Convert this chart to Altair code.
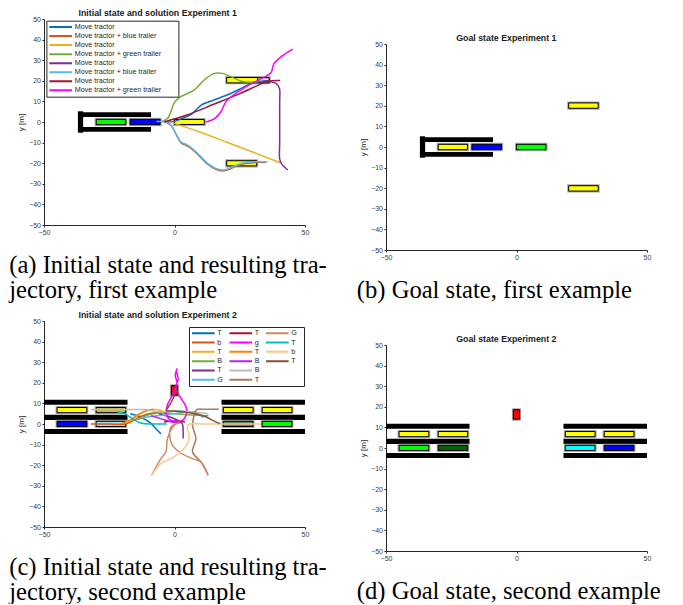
import altair as alt
import pandas as pd

# ---------------- axes / text ----------------
X_DOMAIN = [-50, 50]
Y_DOMAIN = [-50, 50]
X_TICKS = [-50, 0, 50]
Y_TICKS = [-50, -40, -30, -20, -10, 0, 10, 20, 30, 40, 50]
Y_TITLE = "y [m]"

TITLE_A = "Initial state and solution Experiment 1"
TITLE_B = "Goal state Experiment 1"
TITLE_C = "Initial state and solution Experiment 2"
TITLE_D = "Goal state Experiment 2"

CAPTION_A = ["(a) Initial state and resulting tra-", "jectory, first example"]
CAPTION_B = ["(b) Goal state, first example"]
CAPTION_C = ["(c) Initial state and resulting tra-", "jectory, second example"]
CAPTION_D = ["(d) Goal state, second example"]

# ---------------- walls (x1, x2, y1, y2) ----------------
WALLS_EXP1 = [(-37, -35, -5.2, 5.2), (-37, -9, 2.4, 4.7), (-37, -9, -4.7, -2.4)]
WALLS_EXP2 = [(-50, -18, 9.3, 11.8), (-50, -18, 2.0, 4.5), (-50, -18, -4.9, -2.4),
              (18, 50, 9.3, 11.8), (18, 50, 2.0, 4.5), (18, 50, -4.9, -2.4)]

# ---------------- trailers / tractors (x1, x2, y1, y2, kind) ----------------
BOX_KINDS = ["yellow", "blue", "green", "darkgreen", "cyan", "red", "khaki",
             "paleteal", "greygreen", "empty"]
BOX_FILLS = ["#FFFF00", "#0000FF", "#00FF00", "#006400", "#00FFFF", "#FF0000",
             "#C8B84A", "#A6E3E3", "#5E8A5E", "rgba(0,0,0,0)"]

BOXES_A = [(-30, -18.7, -1.3, 1.3, "green"), (-17, -5.5, -1.3, 1.3, "blue"),
           (0, 11.4, -1.2, 1.2, "yellow"), (20, 31.8, 19.0, 21.6, "yellow"),
           (31.8, 36.3, 19.0, 21.6, "empty"), (20, 31.5, -21.3, -18.8, "yellow")]
BOXES_B = [(-30, -18.8, -1.3, 1.3, "yellow"), (-17.1, -5.7, -1.3, 1.3, "blue"),
           (0, 11.3, -1.3, 1.3, "green"), (20, 31.3, 18.8, 21.4, "yellow"),
           (20, 31.3, -21.4, -18.8, "yellow")]
BOXES_C = [(-45, -33.6, 5.5, 8.0, "yellow"), (-30, -18.7, 5.5, 8.0, "khaki"),
           (-45, -33.6, -1.2, 1.3, "blue"), (-30, -18.7, -1.2, 1.3, "paleteal"),
           (18.7, 30.1, 5.5, 8.0, "yellow"), (33.6, 45, 5.5, 8.0, "yellow"),
           (18.7, 30.1, -1.2, 1.3, "greygreen"), (33.6, 45, -1.2, 1.3, "green"),
           (-1.2, 1.2, 14.0, 18.6, "red")]
BOXES_D = [(-45, -33.6, 5.5, 8.0, "yellow"), (-30, -18.7, 5.5, 8.0, "yellow"),
           (-45, -33.6, -1.2, 1.3, "green"), (-30, -18.7, -1.2, 1.3, "darkgreen"),
           (18.7, 30.1, 5.5, 8.0, "yellow"), (33.6, 45, 5.5, 8.0, "yellow"),
           (18.7, 30.1, -1.2, 1.3, "cyan"), (33.6, 45, -1.2, 1.3, "blue"),
           (-1.2, 1.2, 14.0, 18.6, "red")]

# ---------------- Experiment 1 trajectories ----------------
A_LABELS = ["Move tractor", "Move tractor + blue trailer", "Move tractor",
            "Move tractor + green trailer", "Move tractor", "Move tractor + blue trailer",
            "Move tractor", "Move tractor + green trailer"]
A_COLORS = ["#0072BD", "#D95319", "#EDB120", "#77AC30", "#7E2F8E", "#4DBEEE",
            "#A2142F", "#FF00FF"]

A_BLUE = [(-3, 0), (0, 0.3), (3, 1.8), (6.3, 3.6), (8.5, 6.2), (10.5, 8.4), (15.2, 10.7),
          (20.3, 13.2), (25.5, 16.3), (29.3, 18.7), (33, 19.8), (36, 20)]
A_ORANGE = [(-3.5, 0), (-1.2, -1.8), (0.6, -6), (2.5, -10), (5, -11.7), (7.5, -14),
            (10.1, -17.2), (12.7, -20.5), (15.9, -23), (18.5, -23.8), (21, -23),
            (23.5, -21.5), (27, -20.2), (31, -19.6), (35, -19.7)]
A_YELLOW = [(-1, -0.3), (10, -5), (20, -9.8), (30, -14.6), (40.5, -19.8)]
A_GREEN = [(-5, 0), (-2.5, 2), (-1.4, 5), (0, 9.5), (2.4, 12.3), (7.5, 15.5), (11.4, 20.4),
           (15.2, 23.6), (18.4, 23.6), (21.6, 22), (25.5, 19.8), (29.3, 19.3), (32, 19.6)]
A_PURPLE = [(34, 20), (38.9, 18.7), (40.2, 16.3), (40.3, 10), (40.3, 0), (40.3, -10),
            (40.3, -18), (41, -20.2), (43.4, -23.3)]
A_LIGHTBLUE = [(-7, 0.2), (-3, 0), (-1.4, -1.5), (0.5, -5.5), (2.4, -9.6), (5, -11.2),
               (7.5, -13.6), (10.1, -16.8), (12.7, -20.1), (15.9, -22.5), (19, -23.3),
               (22.3, -21.7), (26.7, -19.8), (30.6, -19.3), (35.7, -19.3)]
A_DARKRED = [(-4, 0), (5, 3.5), (15, 8.6), (25, 13.8), (32, 17.8), (36, 19.8), (40.5, 20.1)]
A_MAGENTA = [(12, 0), (15.2, 1.5), (17.8, 5), (19.7, 9.9), (22.5, 13), (26, 16), (30, 19),
             (34, 21.5), (37, 24), (38, 28), (40.8, 31.6), (45.3, 35.4)]
A_SERIES = [A_BLUE, A_ORANGE, A_YELLOW, A_GREEN, A_PURPLE, A_LIGHTBLUE, A_DARKRED, A_MAGENTA]

# ---------------- Experiment 2 trajectories (legend order, column-major) ----------------
C_LABELS = ["T", "b", "T", "B", "T", "G", "T", "g", "T", "B", "B", "T", "G", "T", "b", "T"]
C_COLORS = ["#0072BD", "#D95319", "#EDB120", "#77AC30", "#7E2F8E", "#4DBEEE",
            "#A2142F", "#FF00FF", "#FF8000", "#B026F0", "#BDBDBD", "#B07850",
            "#D08A60", "#00BFBF", "#FFC48C", "#7F5238"]

C_T1 = [(-17, 5), (-15, 4.3), (-13, 3.4), (-11, 2), (-9, 0.3), (-7.2, -2.2), (-5.2, -4.8)]
C_B1 = [(-32, 0), (-25, 0), (-19, 0), (-16, 1.5), (-13, 3.5), (-10, 5), (-6, 5.5), (-2, 5)]
C_T2 = [(-19, 0.5), (-16, 2.5), (-13, 5), (-10, 6.5), (-7, 7), (-4, 6)]
C_BB1 = [(-14, 2), (-10, 4.5), (-5, 5.5), (0, 5), (5, 4.5), (9, 4.2), (13, 4)]
C_T3 = [(-6, 5), (-2, 3.5), (1, 2), (3, 0), (3.3, -3), (3.3, -7)]
C_G1 = [(-13, 3), (-8, 3.8), (-3, 4.5), (2, 5.5), (6, 6), (9, 5), (11, 3)]
C_T4 = [(-4, 1), (0, 1.5), (4, 1)]
C_GG = [(1, 27), (0.3, 23.5), (1, 20), (0.3, 17), (-1, 13.5), (-2.8, 9), (-3.2, 5), (-2, 2.3),
        (0.5, 1.3), (3, 1.8), (4.5, 4.5), (4.5, 8), (3, 11.5), (1.5, 14.5), (0.6, 18),
        (1.4, 22), (0.7, 25.5)]
C_T5 = [(-20, 0.3), (-17, 2), (-14, 4.5), (-11, 6.5), (-8, 7.2)]
C_BB2 = [(-9, 4), (-5, 2.5), (-1, 1), (2, 0.5)]
C_BB3 = [(-32, 7), (-20, 7), (-12, 7), (-6, 6), (0, 6.5), (6, 6), (13, 5)]
C_T6 = [(17, 7.1), (12, 7.1), (8.5, 7), (7.5, 4), (6.9, -0.6), (8.2, -7.1), (6.9, -13.6),
        (10.1, -18.4), (12.9, -24.9)]
C_G2 = [(-8.8, -24.9), (-5.2, -16.8), (-3.3, -13.6), (-2.7, -7.1), (-0.1, -0.6), (1.5, 0.5),
        (-1.4, -1.5), (-1.4, -8.7), (1.8, -13.6), (6.9, -16.8), (10.1, -18.4), (12.9, -24.9)]
C_T7 = [(-22, 6), (-19, 5), (-16, 2.5), (-13, 0.5), (-9, 0), (-3, 0)]
C_B2 = [(33, 0), (20, 0), (10, 0), (6, 0), (5, -0.6), (5.6, -7.1), (3.1, -12.8), (-1.4, -16.8),
        (-5.2, -19.2), (-8.8, -24.9)]
C_T8 = [(1, 18), (0, 14), (-1.5, 10), (-3, 6.5), (-1, 6.3), (3, 6), (8, 5), (12, 3.5),
        (15, 1.5), (17.5, 0.2)]
C_SERIES = [C_T1, C_B1, C_T2, C_BB1, C_T3, C_G1, C_T4, C_GG, C_T5, C_BB2, C_BB3, C_T6,
            C_G2, C_T7, C_B2, C_T8]
C_BLANKS = 2  # empty legend cells closing the third column

CAP_FS = 24.6
CAP_LH = 25
CAP_Y = 47
PAD = "\u2800"  # blank filler that widens legend boxes
PLOT_W = 261
PLOT_H = 206


def walls_df(rows):
    return pd.DataFrame(rows, columns=["x1", "x2", "y1", "y2"])


def boxes_df(rows):
    return pd.DataFrame(rows, columns=["x1", "x2", "y1", "y2", "kind"])


def key(k, label):
    return f"{k:02d}|{label}"


def traj_df(series, labels):
    recs = []
    for k, (pts, lab) in enumerate(zip(series, labels)):
        for i, (x, y) in enumerate(pts):
            recs.append({"s": key(k, lab), "i": i, "x": x, "y": y})
    return pd.DataFrame(recs)


XS = alt.Scale(domain=X_DOMAIN, nice=False, zero=False)


def panel(walls, boxes, title, title_x, caption, cap_x, lines=None, top=0):
    ys = alt.Scale(domain=Y_DOMAIN, nice=False, zero=False, range=[PLOT_H + top, top])
    xa = alt.Axis(values=X_TICKS, title=caption, titleX=cap_x, titleY=CAP_Y,
                  titleAlign="left", titleAnchor="start", titleBaseline="alphabetic",
                  titleFont="Liberation Serif", titleFontSize=CAP_FS,
                  titleFontWeight="normal", titleLineHeight=CAP_LH, titleColor="black",
                  labelFlush=False)
    ya = alt.Axis(values=Y_TICKS, title=Y_TITLE, titleFont="Liberation Sans",
                  titleFontSize=8, titleFontWeight="normal", titleColor="#262626",
                  titlePadding=3, labelFlush=False)

    def pos(xf, yf):
        return dict(x=alt.X(f"{xf}:Q", scale=XS, axis=xa),
                    y=alt.Y(f"{yf}:Q", scale=ys, axis=ya))

    w = alt.Chart(walls_df(walls)).mark_rect(color="black").encode(
        x2="x2:Q", y2="y2:Q", **pos("x1", "y1"))
    bdf = boxes_df(boxes)
    halo = alt.Chart(bdf).mark_rect(fillOpacity=0, stroke="#a8a8a8", strokeWidth=3).encode(
        x2="x2:Q", y2="y2:Q", **pos("x1", "y1"))
    box = alt.Chart(bdf).mark_rect(stroke="black", strokeWidth=1).encode(
        x2="x2:Q", y2="y2:Q",
        fill=alt.Fill("kind:N", scale=alt.Scale(domain=BOX_KINDS, range=BOX_FILLS),
                      legend=None),
        **pos("x1", "y1"))
    ttl = alt.Chart(pd.DataFrame({"t": [title]})).mark_text(
        font="Liberation Sans", fontSize=8.8, fontWeight="bold", color="#1a1a1a",
        align="center", baseline="middle").encode(
        text="t:N", x=alt.value(title_x), y=alt.value(top - 6.5))
    layers = [w, halo, box]
    if lines is not None:
        layers.append(lines(pos))
    layers.append(ttl)
    return alt.layer(*layers).properties(width=PLOT_W, height=PLOT_H + top)


def lines_a(pos):
    dom = [key(k, l) for k, l in enumerate(A_LABELS)]
    leg = alt.Legend(orient="none", legendX=2.4, legendY=1.7, title=None,
                     symbolType="stroke", symbolSize=515, symbolStrokeWidth=2,
                     labelFont="Liberation Sans", labelFontSize=7.2, labelColor="#262626",
                     labelExpr="split(datum.label, '|')[1] + '" + PAD * 3 + "'",
                     fillColor="white", strokeColor="#262626", padding=1.8,
                     clipHeight=9, rowPadding=0.05, labelOffset=1.5, symbolOffset=0,
                     direction="vertical")
    return alt.Chart(traj_df(A_SERIES, A_LABELS)).mark_line(
        strokeWidth=1.5, interpolate="catmull-rom").encode(
        color=alt.Color("s:N", scale=alt.Scale(domain=dom, range=A_COLORS), legend=leg),
        order="i:Q", **pos("x", "y"))


def lines_c(pos):
    dom = [key(k, l) for k, l in enumerate(C_LABELS)]
    rng = list(C_COLORS)
    for j in range(C_BLANKS):
        dom.append(f"{90 + j}|")
        rng.append("rgba(0,0,0,0)")
    leg = alt.Legend(orient="none", legendX=145, legendY=6, title=None, columns=3,
                     symbolType="stroke", symbolSize=515, symbolStrokeWidth=2,
                     labelFont="Liberation Sans", labelFontSize=7.2, labelColor="#262626",
                     labelExpr=("split(datum.label, '|')[1] + "
                                "(toNumber(slice(datum.label, 0, 2)) >= 12 ? '"
                                + PAD + "' : '')"),
                     fillColor="white", strokeColor="#262626", padding=1.8,
                     clipHeight=9, rowPadding=0.28, columnPadding=4.5, labelOffset=1.5,
                     symbolOffset=0, gridAlign="each")
    return alt.Chart(traj_df(C_SERIES, C_LABELS)).mark_line(
        strokeWidth=1.5, interpolate="catmull-rom").encode(
        color=alt.Color("s:N", scale=alt.Scale(domain=dom, range=rng), legend=leg),
        order="i:Q", **pos("x", "y"))


pa = panel(WALLS_EXP1, BOXES_A, TITLE_A, 113.7, CAPTION_A, -35.3, lines_a)
pb = panel(WALLS_EXP1, BOXES_B, TITLE_B, 120.3, CAPTION_B, -29.7, top=25)
pc = panel(WALLS_EXP2, BOXES_C, TITLE_C, 113.7, CAPTION_C, -35.3, lines_c)
pd_ = panel(WALLS_EXP2, BOXES_D, TITLE_D, 120.3, CAPTION_D, -29.7)

col1 = alt.vconcat(pa, pc, spacing=8).resolve_scale(color="independent", y="independent")
col2 = alt.vconcat(pb, pd_, spacing=32).resolve_scale(color="independent", y="independent")

chart = alt.hconcat(col1, col2, spacing=29).resolve_scale(
    color="independent", y="independent").properties(
    padding=0
).configure_axis(
    labelFont="Liberation Sans", labelFontSize=7, labelColor="#3a3a3a",
    domainColor="#262626", domainWidth=1, tickColor="#262626", tickSize=2,
    grid=False, labelPadding=1.5
).configure_view(stroke=None)

chart.save("out.html", embed_options={"renderer": "svg", "actions": False})
